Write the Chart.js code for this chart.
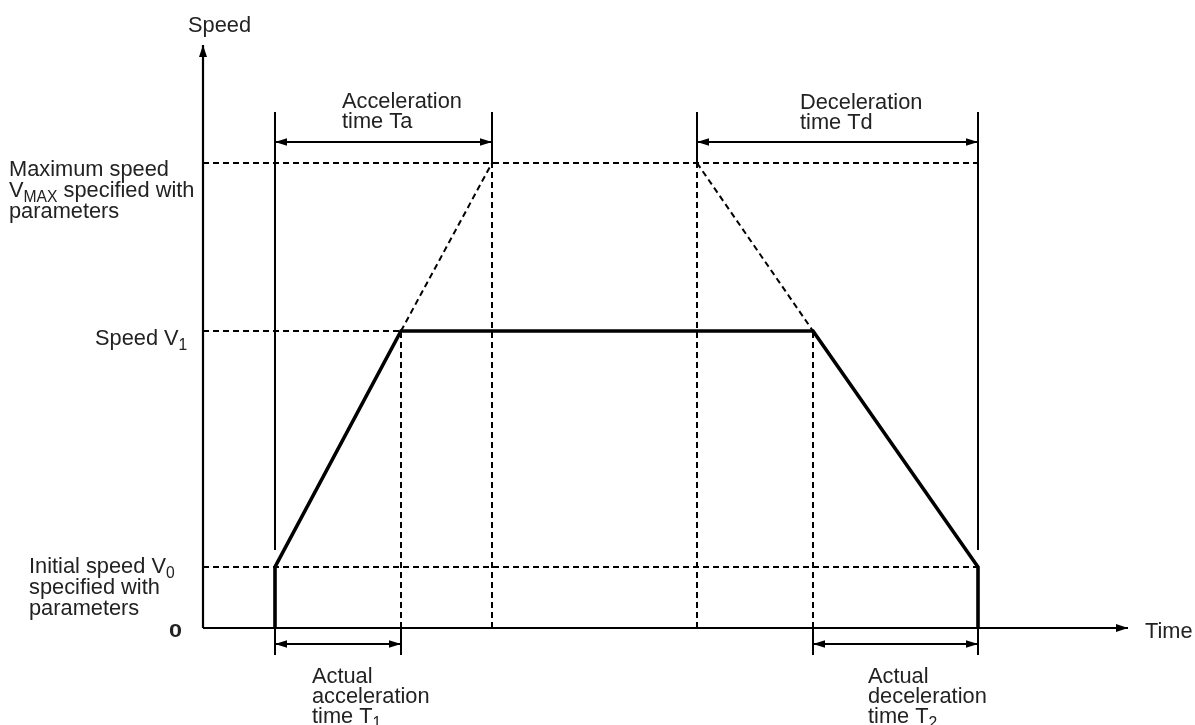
<!DOCTYPE html>
<html>
<head>
<meta charset="utf-8">
<script src="https://cdn.jsdelivr.net/npm/chart.js@4"></script>
<style>
  html, body { margin: 0; padding: 0; background: #fff; }
  #chart { display: block; }
</style>
</head>
<body>
<canvas id="chart" width="1195" height="725"></canvas>
<script>
// key instants on the time axis: start, end of T1, end of Ta, start of Td, start of T2, stop
const keyTimes = [7.2, 19.8, 28.9, 49.4, 61.0, 77.5];
// key speeds: 0, V0, V1, Vmax
const keySpeeds = [0, 6.1, 29.7, 46.5];

// actual speed profile
const profileTime = [7.2, 7.2, 19.8, 61.0, 77.5, 77.5];
const profileSpeed = [0, 6.1, 29.7, 29.7, 6.1, 0];

const timeMax = 92.5;
const speedMax = 58.3;

const speedNames = [
  "0",
  "Initial speed V_{0}\nspecified with\nparameters",
  "Speed V_{1}",
  "Maximum speed\nV_{MAX} specified with\nparameters"
];
const spanNames = [
  "Acceleration\ntime Ta",
  "Deceleration\ntime Td",
  "Actual\nacceleration\ntime T_{1}",
  "Actual\ndeceleration\ntime T_{2}"
];
const axisNames = ["Time", "Speed"];

const FONT = '"Liberation Sans", Arial, Helvetica, sans-serif';
const TEXT_COLOR = "#222";

// small helper to turn a point list into a line dataset
function seg(points, style) {
  return Object.assign({
    data: points.map(([x, y]) => ({ x, y })),
    showLine: true,
    borderColor: "#000",
    borderWidth: 2,
    pointRadius: 0,
    pointHoverRadius: 0,
    fill: false,
    tension: 0,
    clip: false
  }, style || {});
}

const [tStart, tT1, tTa, tTd, tT2, tStop] = keyTimes;
const [v0, vInit, v1, vMax] = keySpeeds;
const dash = { borderDash: [6, 4], borderWidth: 2 };
const guideTop = 51.6;    // top of thin vertical guides
const guideLow = 7.8;     // bottom of long thin guides
const spanTop = 48.6;     // height of Ta / Td arrows
const spanLow = -1.6;     // height of T1 / T2 arrows
const tickLow = -2.7;     // bottom of the ticks under the time axis

const datasets = [
  // axes
  seg([[0, 0], [timeMax, 0]], { borderWidth: 2.2, arrow: "end", headLen: 12, headW: 4 }),
  seg([[0, 0], [0, speedMax]], { borderWidth: 2.2, arrow: "end", headLen: 12, headW: 4 }),

  // horizontal dashed speed levels
  seg([[0, vMax], [tStop, vMax]], dash),
  seg([[0, v1], [tT2, v1]], dash),
  seg([[0, vInit], [tStop, vInit]], dash),

  // vertical dashed time marks
  seg([[tT1, 0], [tT1, v1]], dash),
  seg([[tTa, 0], [tTa, vMax]], dash),
  seg([[tTd, 0], [tTd, vMax]], dash),
  seg([[tT2, 0], [tT2, v1]], dash),

  // dashed extensions of the ramps up to Vmax
  seg([[tT1, v1], [tTa, vMax]], dash),
  seg([[tTd, vMax], [tT2, v1]], dash),

  // thin solid guides
  seg([[tStart, guideLow], [tStart, guideTop]]),
  seg([[tStop, guideLow], [tStop, guideTop]]),
  seg([[tTa, vMax], [tTa, guideTop]]),
  seg([[tTd, vMax], [tTd, guideTop]]),

  // ticks below the time axis
  seg([[tStart, 0], [tStart, tickLow]]),
  seg([[tT1, 0], [tT1, tickLow]]),
  seg([[tT2, 0], [tT2, tickLow]]),
  seg([[tStop, 0], [tStop, tickLow]]),

  // span arrows
  seg([[tStart, spanTop], [tTa, spanTop]], { arrow: "both", headLen: 12, headW: 3.8 }),
  seg([[tTd, spanTop], [tStop, spanTop]], { arrow: "both", headLen: 12, headW: 3.8 }),
  seg([[tStart, spanLow], [tT1, spanLow]], { arrow: "both", headLen: 12, headW: 3.8 }),
  seg([[tT2, spanLow], [tStop, spanLow]], { arrow: "both", headLen: 12, headW: 3.8 }),

  // actual speed profile
  seg(profileTime.map((t, i) => [t, profileSpeed[i]]), { borderWidth: 3.6, borderJoinStyle: "miter" })
];

function head(ctx, from, to, len, w) {
  const ang = Math.atan2(to.y - from.y, to.x - from.x);
  ctx.save();
  ctx.translate(to.x, to.y);
  ctx.rotate(ang);
  ctx.beginPath();
  ctx.moveTo(0, 0);
  ctx.lineTo(-len, -w);
  ctx.lineTo(-len, w);
  ctx.closePath();
  ctx.fillStyle = "#000";
  ctx.fill();
  ctx.restore();
}

const arrowPlugin = {
  id: "arrows",
  afterDatasetsDraw(chart) {
    const ctx = chart.ctx;
    chart.data.datasets.forEach((ds, i) => {
      if (!ds.arrow) return;
      const pts = chart.getDatasetMeta(i).data;
      const a = pts[0], b = pts[pts.length - 1];
      head(ctx, a, b, ds.headLen, ds.headW);
      if (ds.arrow === "both") head(ctx, b, a, ds.headLen, ds.headW);
    });
  }
};

// draws text with _{...} subscripts, one line
function richLine(ctx, line, x, y, size) {
  const parts = line.split(/(_\{[^}]*\})/).filter(s => s.length);
  let cx = x;
  parts.forEach(p => {
    if (p.startsWith("_{")) {
      ctx.font = (size * 0.72).toFixed(1) + "px " + FONT;
      ctx.fillText(p.slice(2, -1), cx, y + size * 0.22);
      cx += ctx.measureText(p.slice(2, -1)).width;
    } else {
      ctx.font = size + "px " + FONT;
      ctx.fillText(p, cx, y);
      cx += ctx.measureText(p).width;
    }
  });
}

function block(ctx, text, x, y, size, lh) {
  text.split("\n").forEach((line, i) => richLine(ctx, line, x, y + i * lh, size));
}

const textPlugin = {
  id: "texts",
  afterDraw(chart) {
    const ctx = chart.ctx;
    const xs = chart.scales.x, ys = chart.scales.y;
    const px = v => xs.getPixelForValue(v);
    const py = v => ys.getPixelForValue(v);
    const size = 21.8, lh = 21;
    ctx.save();
    ctx.fillStyle = TEXT_COLOR;
    ctx.textBaseline = "alphabetic";
    ctx.textAlign = "left";

    // the zero label is a wider, heavier glyph in the original
    ctx.save();
    ctx.translate(px(0) - 21, py(v0) + 9);
    ctx.scale(1.3, 1);
    ctx.font = "bold 18px " + FONT;
    ctx.textAlign = "right";
    ctx.fillText(speedNames[0], 0, 0);
    ctx.restore();

    block(ctx, speedNames[1], 29, py(vInit) + 6, size, lh);
    block(ctx, speedNames[2], 95, py(v1) + 14, size, lh);
    block(ctx, speedNames[3], 9, py(vMax) + 13, size, lh);

    // span labels
    block(ctx, spanNames[0], px(tStart) + 67, py(spanTop) - 34, size, 20);
    block(ctx, spanNames[1], px(tTd) + 103, py(spanTop) - 33, size, 20);
    block(ctx, spanNames[2], px(tStart) + 37, py(v0) + 55, size, 20);
    block(ctx, spanNames[3], px(tT2) + 55, py(v0) + 55, size, 20);

    // axis names
    block(ctx, axisNames[0], px(timeMax) + 17, py(0) + 10, size, lh);
    block(ctx, axisNames[1], px(0) - 15, py(speedMax) - 13, size, lh);
    ctx.restore();
  }
};

new Chart(document.getElementById("chart"), {
  type: "scatter",
  data: { datasets },
  options: {
    responsive: false,
    devicePixelRatio: 1,
    animation: false,
    events: [],
    layout: { padding: { left: 203, right: 67, top: 45, bottom: 97 } },
    scales: {
      x: { type: "linear", min: 0, max: timeMax, display: false },
      y: { type: "linear", min: 0, max: speedMax, display: false }
    },
    plugins: { legend: { display: false }, tooltip: { enabled: false } }
  },
  plugins: [arrowPlugin, textPlugin]
});
</script>
</body>
</html>
